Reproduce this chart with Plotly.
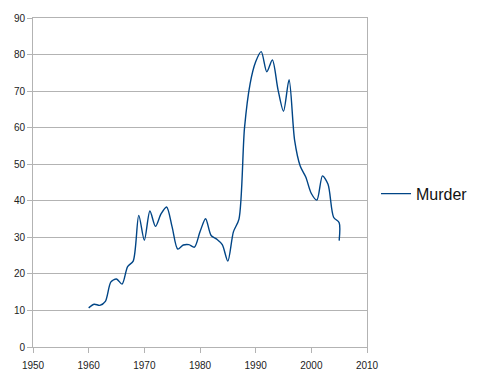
import plotly.graph_objects as go

years = list(range(1960, 2006)) + [2005]
murder = [10.7, 11.7, 11.4, 12.5, 17.8, 18.6, 17.2, 22.0, 23.5, 36.0,
          29.2, 37.2, 33.0, 36.4, 38.3, 32.8, 26.8, 27.9, 28.0, 27.3,
          31.5, 35.1, 30.5, 29.5, 28.0, 23.5, 31.5, 35.0, 60.0, 72.0,
          78.0, 80.8, 75.3, 78.5, 70.5, 64.5, 73.1, 56.5, 49.5, 46.5,
          42.0, 40.2, 46.8, 44.5, 35.5, 34.0, 29.1]

x_ticks = [1950, 1960, 1970, 1980, 1990, 2000, 2010]
y_ticks = [0, 10, 20, 30, 40, 50, 60, 70, 80, 90]

fig = go.Figure()
fig.add_trace(go.Scatter(
    x=years, y=murder, mode="lines", name="Murder",
    line=dict(color="#004586", width=1.4, shape="spline", smoothing=0.8),
))

axis_common = dict(
    showline=True, linecolor="#b3b3b3", linewidth=1, mirror=True,
    ticks="outside", ticklen=5, tickcolor="#b3b3b3", tickwidth=1,
    tickfont=dict(family="Liberation Sans, Arial, sans-serif", size=10, color="#222"),
    zeroline=False,
)

fig.update_layout(
    width=501, height=383,
    margin=dict(l=33, r=134, t=14, b=36),
    paper_bgcolor="white", plot_bgcolor="white",
    showlegend=True,
    legend=dict(x=1.027, y=0.466, xanchor="left", yanchor="middle",
                font=dict(family="Liberation Sans, Arial, sans-serif", size=16, color="#111"),
                bgcolor="rgba(0,0,0,0)"),
    xaxis=dict(range=[1950, 2010], tickvals=x_ticks, showgrid=False,
               ticklabelstandoff=4, **axis_common),
    yaxis=dict(range=[0, 90], tickvals=y_ticks, showgrid=True,
               gridcolor="#b3b3b3", gridwidth=1, **axis_common),
)

fig.write_html("out.html")
